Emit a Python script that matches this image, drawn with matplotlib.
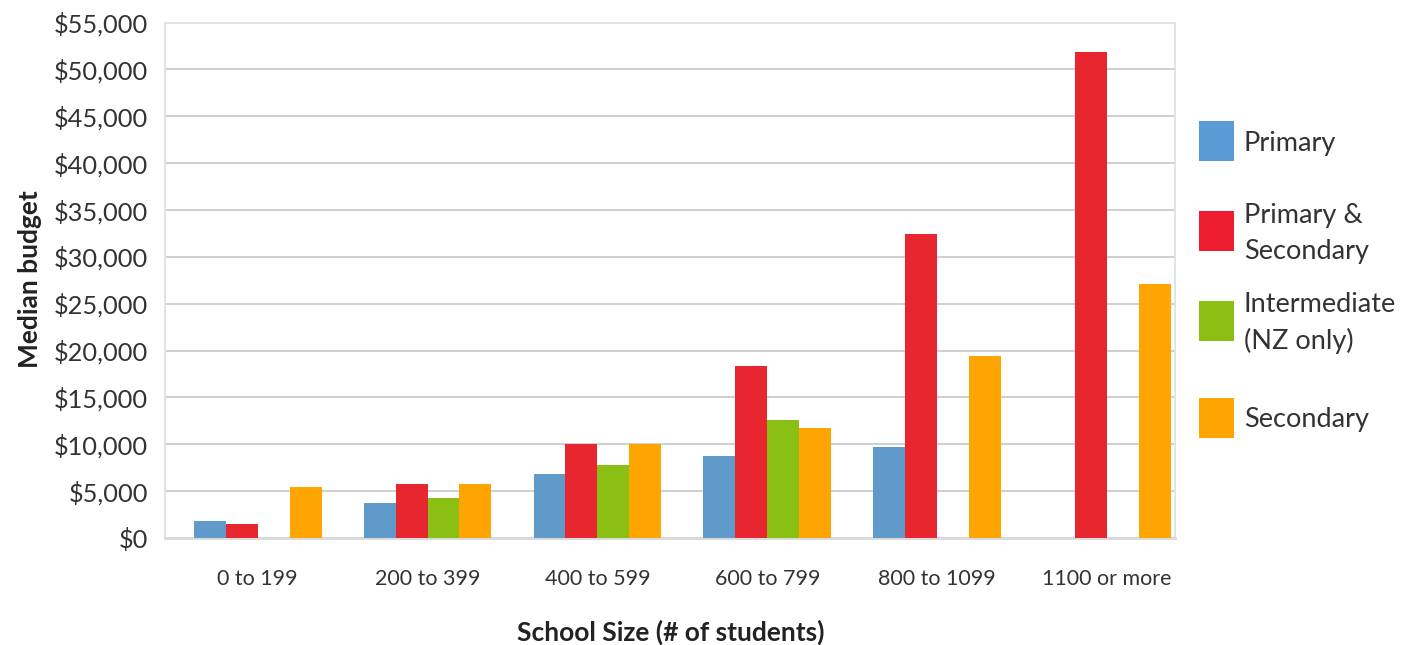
import numpy as np
import matplotlib
matplotlib.use("Agg")
import matplotlib.pyplot as plt
from matplotlib.patches import Rectangle
from matplotlib.ticker import FuncFormatter, MultipleLocator

plt.rcParams['font.family'] = ['Lato', 'DejaVu Sans']

categories = ["0 to 199", "200 to 399", "400 to 599", "600 to 799", "800 to 1099", "1100 or more"]
series_names = ["Primary", "Primary &\nSecondary", "Intermediate\n(NZ only)", "Secondary"]
primary = [1800, 3750, 6830, 8750, 9710, np.nan]
primary_secondary = [1500, 5760, 10030, 18360, 32440, 51870]
intermediate = [np.nan, 4270, 7790, 12600, np.nan, np.nan]
secondary = [5450, 5760, 10030, 11740, 19420, 27100]
colors = ["#5F9ACB", "#E8262F", "#8ABF14", "#FFA502"]
legend_colors = ["#5B9BD5", "#ED1C2E", "#8ABF14", "#FFA502"]

series = [primary, primary_secondary, intermediate, secondary]

fig = plt.figure(figsize=(14.18, 6.45), dpi=100)
ax = fig.add_axes([0.1164, 0.1659, 0.7122, 0.7992])

x = np.arange(len(categories))
w = 0.188
for i, (vals, c) in enumerate(zip(series, colors)):
    ax.bar(x + (i - 1.5) * w, vals, width=w, color=c, linewidth=0, zorder=3)

ax.set_xlim(-0.545, 5.40)
ax.set_ylim(0, 55000)
ax.yaxis.set_major_locator(MultipleLocator(5000))
ax.yaxis.set_major_formatter(FuncFormatter(lambda v, p: f"${v:,.0f}"))
ax.set_xticks(x)
ax.set_xticklabels(categories)
ax.tick_params(axis='both', length=0, colors="#333333")
ax.tick_params(axis='y', labelsize=18.3, pad=12)
ax.tick_params(axis='x', labelsize=15.5, pad=22)
ax.grid(axis='y', color="#cfcfcf", linewidth=1.4, zorder=0)
for s in ax.spines.values():
    s.set_color("#e3e3e3")
    s.set_linewidth(1.4)
ax.spines['bottom'].set_color("#d9d9d9")
ax.spines['bottom'].set_linewidth(2)

fig.text(30 / 1418, 1 - 279 / 645, "Median budget", rotation=90, ha='center', va='center',
         fontsize=19, fontweight='bold', color="#222222")
fig.text(671 / 1418, 1 - 632 / 645, "School Size (# of students)", ha='center', va='center',
         fontsize=19, fontweight='bold', color="#222222")

# legend: colored squares with labels
legend_centers = [141, 231, 321, 418]
for name, c, yc in zip(series_names, legend_colors, legend_centers):
    fig.patches.append(Rectangle((1199 / 1418, 1 - (yc + 20) / 645), 35 / 1418, 40 / 645,
                                 transform=fig.transFigure, facecolor=c, edgecolor='none'))
    fig.text(1244 / 1418, 1 - (yc + 2) / 645, name, ha='left', va='center', fontsize=19.5,
             color="#333333", linespacing=1.55)

fig.savefig("out.png", dpi=100)
